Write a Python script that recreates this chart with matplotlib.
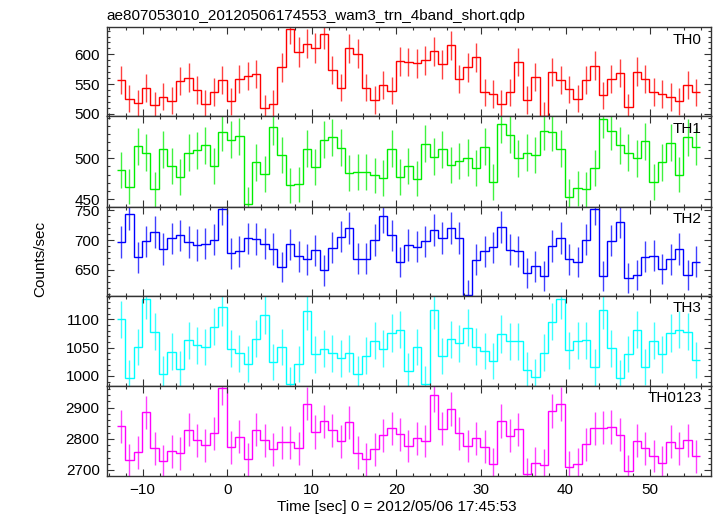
"""
plot.py
WAM light curve in four energy bands plus their sum, 1 s bins (QDP look).
"""
import numpy as np
import matplotlib
matplotlib.use('Agg')
import matplotlib.pyplot as plt
from matplotlib.ticker import MultipleLocator, FixedLocator

plt.rcParams['font.family'] = ['Liberation Sans', 'DejaVu Sans']

# --- Data (counts/sec per 1 s bin) ---
T_START = -13.07      # left edge of first bin [sec]
BIN_WIDTH = 1.0

th0 = [556, 525, 518, 543, 514, 529, 522, 555, 561, 540,
       517, 537, 556, 521, 559, 563, 567, 509, 517, 578,
       643, 604, 618, 611, 634, 574, 544, 610, 601, 544,
       523, 548, 539, 588, 587, 585, 590, 605, 583, 615,
       558, 578, 595, 536, 533, 517, 536, 587, 523, 562,
       497, 570, 557, 541, 525, 556, 581, 531, 558, 569,
       511, 571, 558, 537, 533, 528, 521, 548, 536]
th1 = [486, 465, 515, 507, 462, 511, 491, 477, 507, 510,
       516, 491, 532, 523, 527, 444, 495, 481, 539, 504,
       467, 468, 512, 489, 523, 526, 513, 482, 483, 483,
       479, 476, 512, 477, 491, 475, 518, 502, 511, 492,
       497, 501, 488, 514, 471, 542, 529, 500, 507, 504,
       533, 532, 512, 453, 463, 462, 488, 548, 533, 516,
       507, 500, 521, 471, 495, 519, 480, 526, 514]
th2 = [697, 744, 671, 698, 713, 685, 703, 708, 697, 692,
       694, 701, 753, 678, 681, 703, 702, 694, 685, 655,
       693, 673, 668, 683, 649, 687, 706, 721, 669, 669,
       700, 740, 708, 663, 692, 689, 698, 717, 704, 721,
       704, 608, 667, 681, 688, 722, 684, 681, 645, 656,
       640, 690, 704, 668, 663, 701, 753, 640, 699, 730,
       636, 642, 672, 674, 652, 668, 685, 642, 664]
th3 = [1100, 996, 1051, 1135, 1078, 1003, 1043, 1012, 1063, 1054,
       1051, 1087, 1121, 1048, 1040, 1021, 1066, 1108, 1025, 1051,
       985, 1021, 1115, 1038, 1048, 1040, 1031, 1040, 1004, 1036,
       1062, 1048, 1076, 1082, 1009, 1051, 986, 1116, 1035, 1065,
       1058, 1085, 1052, 1044, 1026, 1074, 1061, 1061, 1011, 999,
       1041, 1096, 1135, 1045, 1062, 1063, 1015, 1116, 1049, 997,
       1039, 1082, 1016, 1062, 1038, 1076, 1082, 1078, 1028]
th0123 = [2840, 2731, 2757, 2885, 2770, 2728, 2760, 2753, 2830, 2795,
          2779, 2818, 2962, 2773, 2807, 2734, 2830, 2795, 2766, 2789,
          2789, 2770, 2913, 2822, 2856, 2827, 2792, 2853, 2756, 2734,
          2766, 2811, 2834, 2814, 2777, 2802, 2793, 2941, 2833, 2895,
          2818, 2777, 2802, 2775, 2719, 2857, 2810, 2831, 2686, 2721,
          2715, 2889, 2911, 2709, 2718, 2783, 2834, 2836, 2838, 2813,
          2697, 2794, 2770, 2745, 2724, 2791, 2770, 2796, 2744]

band_names = ['TH0', 'TH1', 'TH2', 'TH3', 'TH0123']
band_colors = ['#ff0000', '#00ee00', '#0000ff', '#00ffff', '#ff00ff']
band_ylims = [(495.6, 645.5), (440.2, 551.6), (606.6, 755.6),
              (982.3, 1141.6), (2680.7, 2969.6)]
band_ticks = [[500, 550, 600], [450, 500], [650, 700, 750],
              [1000, 1050, 1100], [2700, 2800, 2900]]
band_minor = [10, 10, 10, 10, 20]

# --- Figure ---
fig, axes = plt.subplots(5, 1, figsize=(7.17, 5.16), dpi=100, sharex=True,
                         gridspec_kw=dict(hspace=0,
                                          height_ratios=[89, 90.7, 88.7, 90.3, 90]))
fig.subplots_adjust(left=0.1488, right=0.9916, bottom=0.0775, top=0.947)

for ax, rate, name, col, ylim, ticks, mnr in zip(
        axes, [th0, th1, th2, th3, th0123], band_names, band_colors,
        band_ylims, band_ticks, band_minor):
    rate = np.asarray(rate, dtype=float)
    edges = T_START + BIN_WIDTH * np.arange(len(rate) + 1)
    centers = 0.5 * (edges[:-1] + edges[1:])
    err = np.sqrt(rate * BIN_WIDTH) / BIN_WIDTH   # Poisson error per bin

    ax.stairs(rate, edges, baseline=None, color=col, lw=1.0)
    ax.vlines(centers, rate - err, rate + err, color=col, lw=1.0, alpha=0.75)

    ax.set_xlim(-14.25, 57.2)
    ax.set_ylim(*ylim)
    ax.yaxis.set_major_locator(FixedLocator(ticks))
    ax.yaxis.set_minor_locator(MultipleLocator(mnr))
    ax.xaxis.set_major_locator(MultipleLocator(10))
    ax.xaxis.set_minor_locator(MultipleLocator(2))
    ax.tick_params(which='both', direction='in', top=True, right=True,
                   labelsize=11, width=0.8, color='#333333', pad=5)
    ax.tick_params(which='major', length=5)
    ax.tick_params(which='minor', length=2.5)
    for sp in ax.spines.values():
        sp.set_linewidth(1.0)
        sp.set_color('#333333')
    ax.text(0.9846, 0.94, name, transform=ax.transAxes, ha='right', va='top',
            fontsize=11)

fig.text(0.149, 1 - 20 / 516, 'ae807053010_20120506174553_wam3_trn_4band_short.qdp',
         ha='left', va='baseline', fontsize=11)
fig.text(0.056, 0.498, 'Counts/sec', rotation=90, ha='center', va='center',
         fontsize=11)
fig.text(0.554, 0.017, 'Time [sec] 0 = 2012/05/06 17:45:53', ha='center',
         va='center', fontsize=11)

fig.savefig('out.png', dpi=100)
plt.close(fig)
